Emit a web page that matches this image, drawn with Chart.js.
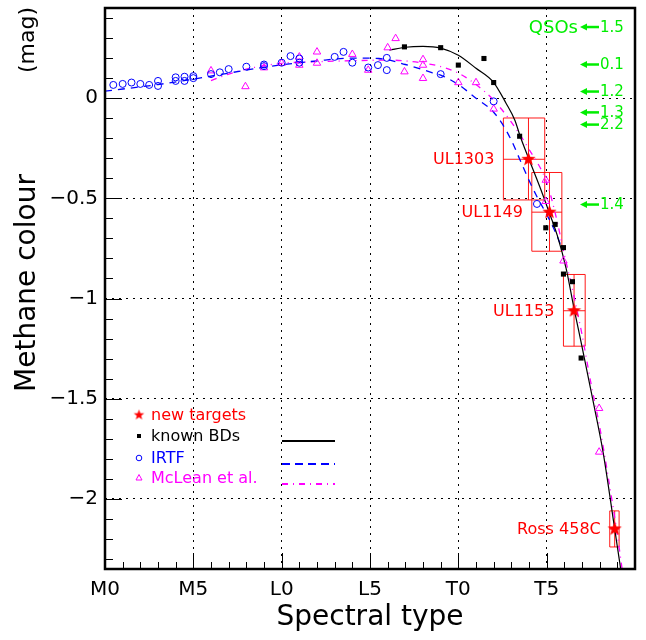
<!DOCTYPE html>
<html>
<head>
<meta charset="utf-8">
<script src="https://cdn.jsdelivr.net/npm/chart.js@4"></script>
<style>
  body { margin: 0; background: #fff; }
  canvas { display: block; }
</style>
</head>
<body>
<canvas id="methaneChart" width="646" height="640"></canvas>
<script>
// spectral type as a number: M0 = 0, L0 = 10, T0 = 20
const xTickLabels = ['M0', 'M5', 'L0', 'L5', 'T0', 'T5'];
const xTickValues = [0, 5, 10, 15, 20, 25];
const yTickValues = [-2, -1.5, -1, -0.5, 0];

// new targets (with error boxes)
const targetNames = ['UL1303', 'UL1149', 'UL1153', 'Ross 458C'];
const targetX = [23.97, 25.16, 26.55, 28.85];
const targetY = [-0.305, -0.569, -1.061, -2.15];
const targetXLo = [22.55, 24.16, 25.95, 28.57];
const targetXHi = [24.89, 25.86, 27.18, 29.1];
const targetYLo = [-0.508, -0.764, -1.238, -2.24];
const targetYHi = [-0.099, -0.371, -0.88, -2.06];

// known brown dwarfs
const knownX = [16.95, 19, 20, 21.45, 22, 23.47, 24.95, 25.48, 25.95, 25.95, 26.46, 26.95];
const knownY = [0.256, 0.252, 0.165, 0.198, 0.078, -0.19, -0.647, -0.63, -0.746, -0.878, -0.916, -1.297];

// IRTF
const irtfX = [0.47, 1, 1.5, 2, 2.5, 3, 3, 4, 4, 4.5, 4.5, 5, 5, 6, 6.5, 7, 8, 9, 9, 10, 10.5, 11, 11,
  13, 13.5, 14, 14.9, 15.45, 15.95, 15.95, 19, 22, 24.45];
const irtfY = [0.066, 0.071, 0.078, 0.071, 0.066, 0.086, 0.061, 0.104, 0.086, 0.107, 0.086, 0.11, 0.1,
  0.12, 0.129, 0.145, 0.157, 0.168, 0.16, 0.177, 0.21, 0.198, 0.177, 0.206, 0.231, 0.177, 0.153,
  0.165, 0.201, 0.14, 0.12, -0.016, -0.528];

// McLean et al.
const mcleanX = [6, 7.95, 9, 10, 11, 11, 12, 12, 14, 14.9, 16, 16.45, 16.95, 18, 18, 18, 20, 21, 22,
  24.95, 24.95, 25.95, 27.97, 27.97];
const mcleanY = [0.137, 0.058, 0.152, 0.175, 0.206, 0.165, 0.231, 0.175, 0.219, 0.14, 0.252, 0.298,
  0.132, 0.193, 0.165, 0.099, 0.078, 0.078, -0.054, -0.409, -0.515, -0.812, -1.548, -1.766];

// fitted relations
const knownFitX = [16.1, 17, 18, 19, 20, 21, 22, 22.7, 23.2, 23.5, 24, 24.6, 25.1, 25.6, 26.1, 26.55,
  27, 27.6, 28.2, 28.85, 29.19];
const knownFitY = [0.24, 0.254, 0.258, 0.25, 0.214, 0.149, 0.078, -0.025, -0.11, -0.19, -0.305, -0.44,
  -0.56, -0.685, -0.85, -1.05, -1.24, -1.5, -1.77, -2.15, -2.35];
const irtfFitX = [0, 3, 5, 8, 9.3, 12, 14, 15.5, 17, 18.5, 19, 20, 21, 22, 22.5, 23, 23.5, 24, 24.5, 25, 25.5, 25.9];
const irtfFitY = [0.035, 0.068, 0.095, 0.14, 0.158, 0.186, 0.2, 0.198, 0.168, 0.128, 0.115, 0.068, 0.0,
  -0.07, -0.13, -0.21, -0.31, -0.41, -0.5, -0.58, -0.67, -0.755];
const mcleanFitX = [6, 7, 8, 9, 10, 12, 14, 16, 17, 18, 19, 20, 21, 22, 23, 24, 25, 25.5, 26, 26.5, 27,
  27.5, 28, 28.5, 29, 29.27];
const mcleanFitY = [0.088, 0.12, 0.145, 0.162, 0.174, 0.182, 0.187, 0.19, 0.186, 0.175, 0.158, 0.125,
  0.068, -0.01, -0.12, -0.255, -0.42, -0.58, -0.78, -0.97, -1.18, -1.42, -1.64, -1.9, -2.18, -2.35];

// QSO colours marked on the right
const qsoLabels = ['1.5', '0.1', '1.2', '1.3', '2.2', '1.4'];
const qsoValues = [0.355, 0.168, 0.033, -0.071, -0.132, -0.531];

const legendLabels = ['new targets', 'known BDs', 'IRTF', 'McLean et al.'];

const RED = '#ff0000', BLUE = '#0000ff', PINK = '#ff00ff', GREEN = '#00ee00';
const FONT = '"DejaVu Sans", sans-serif';

function makeStar(r, color) {
  const c = document.createElement('canvas');
  const s = Math.ceil(r * 2 + 2);
  c.width = s; c.height = s;
  const g = c.getContext('2d');
  g.fillStyle = color;
  g.beginPath();
  for (let i = 0; i < 10; i++) {
    const rr = i % 2 ? r * 0.42 : r;
    const ang = -Math.PI / 2 + i * Math.PI / 5;
    g.lineTo(s / 2 + rr * Math.cos(ang), s / 2 + rr * Math.sin(ang));
  }
  g.closePath();
  g.fill();
  return c;
}
const starImg = makeStar(7.5, RED);

function pts(xs, ys) {
  return xs.map((x, i) => ({ x: x, y: ys[i] }));
}

// error boxes behind the stars
const errorBoxes = {
  id: 'errorBoxes',
  beforeDatasetsDraw(chart) {
    const { ctx, scales: { x, y } } = chart;
    ctx.save();
    ctx.strokeStyle = 'rgba(255,0,0,0.9)';
    ctx.lineWidth = 1;
    targetX.forEach((tx, i) => {
      const l = x.getPixelForValue(targetXLo[i]), r = x.getPixelForValue(targetXHi[i]);
      const t = y.getPixelForValue(targetYHi[i]), b = y.getPixelForValue(targetYLo[i]);
      const cx = x.getPixelForValue(tx), cy = y.getPixelForValue(targetY[i]);
      ctx.beginPath();
      ctx.rect(l, t, r - l, b - t);
      ctx.moveTo(cx, t); ctx.lineTo(cx, b);
      ctx.moveTo(l, cy); ctx.lineTo(r, cy);
      ctx.stroke();
    });
    ctx.restore();
  }
};

const frameAndTicks = {
  id: 'frameAndTicks',
  afterDatasetsDraw(chart) {
    const { ctx, chartArea: a, scales: { x, y } } = chart;
    ctx.save();
    ctx.strokeStyle = '#000';
    ctx.lineWidth = 1;
    ctx.beginPath();
    for (let v = 1; v < 30; v++) {
      const px = Math.round(x.getPixelForValue(v)) + 0.5;
      const len = v % 5 === 0 ? 16 : 7;
      ctx.moveTo(px, a.bottom); ctx.lineTo(px, a.bottom - len);
    }
    for (let i = -23; i <= 4; i++) {
      const py = Math.round(y.getPixelForValue(i / 10)) + 0.5;
      const len = i % 5 === 0 ? 17 : 8;
      ctx.moveTo(a.left, py); ctx.lineTo(a.left + len, py);
    }
    ctx.stroke();
    ctx.lineWidth = 2.5;
    ctx.strokeRect(a.left, a.top, a.right - a.left, a.bottom - a.top);
    ctx.restore();
  }
};

const labelsAndLegend = {
  id: 'labelsAndLegend',
  afterDraw(chart) {
    const { ctx, chartArea: a, scales: { x, y } } = chart;
    ctx.save();

    // axis titles
    ctx.fillStyle = '#000';
    ctx.textAlign = 'center';
    ctx.textBaseline = 'middle';
    ctx.font = '28px ' + FONT;
    ctx.fillText('Spectral type', (a.left + a.right) / 2, 618);
    ctx.save();
    ctx.translate(28, 283);
    ctx.rotate(-Math.PI / 2);
    ctx.fillText('Methane colour', 0, 0);
    ctx.restore();
    ctx.save();
    ctx.translate(28, 40);
    ctx.rotate(-Math.PI / 2);
    ctx.font = '22px ' + FONT;
    ctx.fillText('(mag)', 0, 0);
    ctx.restore();

    // target names
    ctx.fillStyle = RED;
    ctx.font = '16px ' + FONT;
    ctx.textAlign = 'right';
    targetNames.forEach((name, i) => {
      ctx.fillText(name, x.getPixelForValue(targetXLo[i]) - 9, y.getPixelForValue(targetY[i]) + 1);
    });

    // QSO markers
    ctx.fillStyle = GREEN;
    ctx.strokeStyle = GREEN;
    ctx.lineWidth = 2.5;
    ctx.textAlign = 'left';
    ctx.font = '15px ' + FONT;
    qsoValues.forEach((v, i) => {
      const py = y.getPixelForValue(v);
      const x0 = a.right - 55, x1 = a.right - 36;
      ctx.beginPath();
      ctx.moveTo(x0 + 5, py); ctx.lineTo(x1, py);
      ctx.stroke();
      ctx.beginPath();
      ctx.moveTo(x0, py); ctx.lineTo(x0 + 7, py - 3.5); ctx.lineTo(x0 + 7, py + 3.5);
      ctx.closePath(); ctx.fill();
      ctx.fillText(qsoLabels[i], x1 + 1, py + 1);
    });
    ctx.font = '18px ' + FONT;
    ctx.textAlign = 'right';
    ctx.fillText('QSOs', a.right - 57, y.getPixelForValue(qsoValues[0]) + 1);

    // legend
    const lx = 139, tx = 151;
    const rows = [415, 436, 458, 478];
    const cols = [RED, '#000', BLUE, PINK];
    ctx.textAlign = 'left';
    ctx.font = '16px ' + FONT;
    rows.forEach((ry, i) => {
      ctx.fillStyle = cols[i];
      ctx.strokeStyle = cols[i];
      ctx.lineWidth = 1;
      if (i === 0) ctx.drawImage(makeStar(5.5, RED), lx - 6.5, ry - 6.5);
      if (i === 1) ctx.fillRect(lx - 2, ry - 2, 4, 4);
      if (i === 2) { ctx.beginPath(); ctx.arc(lx, ry, 2.8, 0, Math.PI * 2); ctx.stroke(); }
      if (i === 3) {
        ctx.beginPath();
        ctx.moveTo(lx, ry - 3.5); ctx.lineTo(lx + 3, ry + 2); ctx.lineTo(lx - 3, ry + 2);
        ctx.closePath(); ctx.stroke();
      }
      ctx.fillText(legendLabels[i], tx, ry + 1);
    });
    const lines = [[441, '#000', [], 2], [464, BLUE, [8, 5], 2], [484, PINK, [6, 5, 1, 5], 2]];
    lines.forEach(([ly, c, dash, w]) => {
      ctx.strokeStyle = c;
      ctx.lineWidth = w;
      ctx.setLineDash(dash);
      ctx.beginPath();
      ctx.moveTo(282, ly); ctx.lineTo(335, ly);
      ctx.stroke();
    });
    ctx.restore();
  }
};

const ctx = document.getElementById('methaneChart').getContext('2d');
new Chart(ctx, {
  type: 'scatter',
  data: {
    datasets: [
      {
        label: 'new targets', data: pts(targetX, targetY), order: 0,
        pointStyle: starImg, pointRadius: 7
      },
      {
        label: 'known BDs', data: pts(knownX, knownY), order: 1,
        pointStyle: 'rect', pointRadius: 3.6, backgroundColor: '#000', borderWidth: 0
      },
      {
        label: 'IRTF', data: pts(irtfX, irtfY), order: 2,
        pointStyle: 'circle', pointRadius: 3.5, backgroundColor: 'transparent',
        borderColor: BLUE, borderWidth: 1
      },
      {
        label: 'McLean et al.', data: pts(mcleanX, mcleanY), order: 3,
        pointStyle: 'triangle', pointRadius: 4.3, backgroundColor: 'transparent',
        borderColor: PINK, borderWidth: 1
      },
      {
        label: 'known BDs fit', data: pts(knownFitX, knownFitY), order: 4,
        showLine: true, pointRadius: 0, borderColor: '#000', borderWidth: 1.2,
        cubicInterpolationMode: 'monotone'
      },
      {
        label: 'IRTF fit', data: pts(irtfFitX, irtfFitY), order: 5,
        showLine: true, pointRadius: 0, borderColor: BLUE, borderWidth: 1.3,
        borderDash: [7, 6], cubicInterpolationMode: 'monotone'
      },
      {
        label: 'McLean fit', data: pts(mcleanFitX, mcleanFitY), order: 6,
        showLine: true, pointRadius: 0, borderColor: PINK, borderWidth: 1.3,
        borderDash: [6, 5, 1, 5], cubicInterpolationMode: 'monotone'
      }
    ]
  },
  options: {
    responsive: false,
    animation: false,
    events: [],
    layout: { padding: { top: 4, right: 11, left: 0, bottom: 0 } },
    plugins: { legend: { display: false }, tooltip: { enabled: false } },
    scales: {
      x: {
        type: 'linear', min: 0, max: 30,
        afterFit: (s) => { s.height = 71; s.paddingLeft = 0; s.paddingRight = 0; },
        afterBuildTicks: (s) => { s.ticks = xTickValues.map(v => ({ value: v })); },
        grid: {
          color: (c) => (c.tick && c.tick.value === 0) ? 'transparent' : '#000',
          lineWidth: 1, drawTicks: false
        },
        border: { display: false, dash: [2, 5] },
        ticks: {
          autoSkip: false, maxRotation: 0, padding: 9, color: '#000',
          font: { family: 'DejaVu Sans', size: 20 },
          callback: (v) => xTickLabels[xTickValues.indexOf(v)] || ''
        }
      },
      y: {
        type: 'linear', min: -2.35, max: 0.45,
        afterFit: (s) => { s.width = 105; s.paddingTop = 0; s.paddingBottom = 0; },
        afterBuildTicks: (s) => { s.ticks = yTickValues.map(v => ({ value: v })); },
        grid: { color: '#000', lineWidth: 1, drawTicks: false },
        border: { display: false, dash: [2, 5] },
        ticks: {
          autoSkip: false, padding: 7, color: '#000',
          font: { family: 'DejaVu Sans', size: 20 },
          callback: (v) => String(v).replace('-', '\u2212')
        }
      }
    }
  },
  plugins: [errorBoxes, frameAndTicks, labelsAndLegend]
});
</script>
</body>
</html>
